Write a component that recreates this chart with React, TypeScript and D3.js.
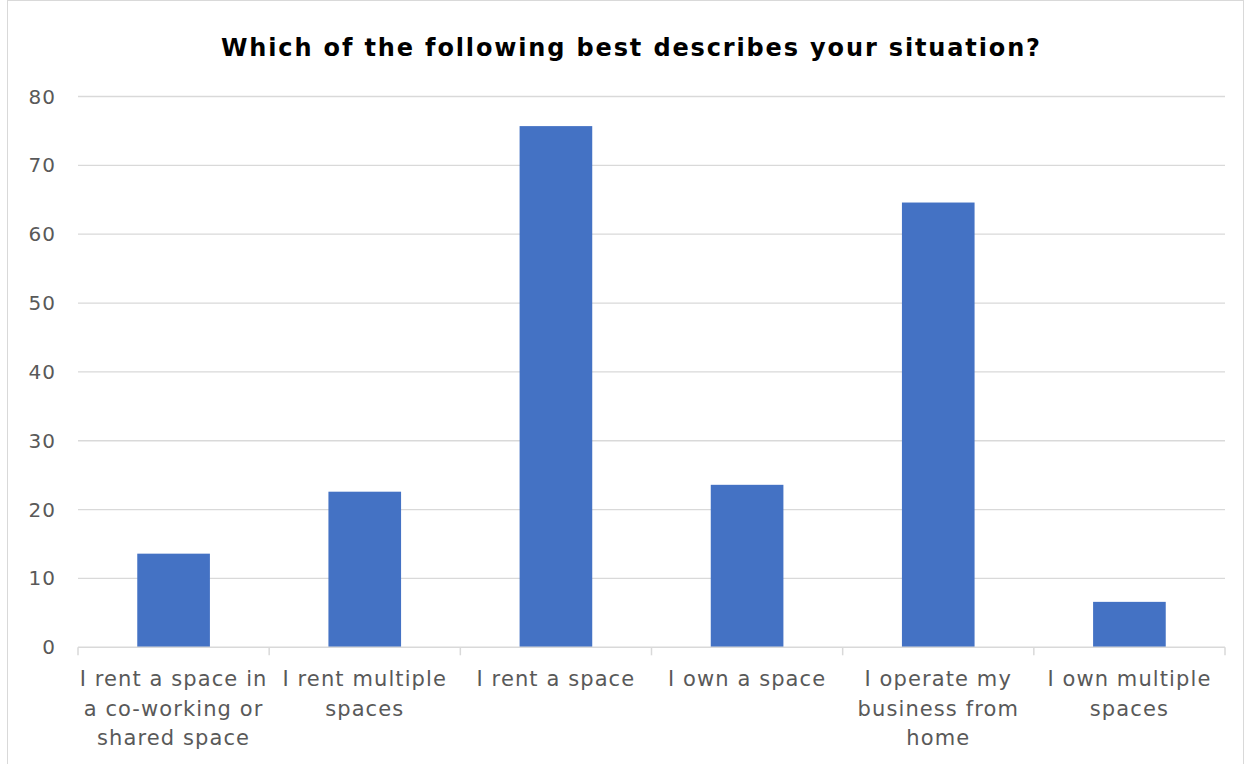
import React, { useEffect, useRef } from 'react';
import * as d3 from 'd3';

const categories: string[][] = [
  ['I rent a space in', 'a co-working or', 'shared space'],
  ['I rent multiple', 'spaces'],
  ['I rent a space'],
  ['I own a space'],
  ['I operate my', 'business from', 'home'],
  ['I own multiple', 'spaces'],
];
const values = [13.6, 22.6, 75.7, 23.6, 64.6, 6.6];
const yTicks = [0, 10, 20, 30, 40, 50, 60, 70, 80];
const title = 'Which of the following best describes your situation?';

const W = 1250;
const H = 764;

export default function App() {
  const svgRef = useRef<SVGSVGElement>(null);

  useEffect(() => {
    if (!svgRef.current) return;
    const svg = d3.select(svgRef.current);
    svg.selectAll('*').remove();

    const left = 78;
    const right = 1225;
    const top = 96.5;
    const bottom = 647.3;
    const font = "'DejaVu Sans', sans-serif";

    svg.append('rect')
      .attr('x', 7.5).attr('y', 0.5)
      .attr('width', 1236).attr('height', 780)
      .attr('fill', '#fff')
      .attr('stroke', '#d9d9d9');

    const x = d3.scaleBand<number>()
      .domain(d3.range(categories.length))
      .range([left, right])
      .paddingInner(0.62)
      .paddingOuter(0.31);

    const y = d3.scaleLinear().domain([0, 80]).range([bottom, top]);

    // gridlines
    svg.append('g')
      .selectAll('line')
      .data(yTicks.slice(1))
      .join('line')
      .attr('x1', left).attr('x2', right)
      .attr('y1', d => y(d)).attr('y2', d => y(d))
      .attr('stroke', '#d9d9d9')
      .attr('stroke-width', 1.3);

    // y labels
    svg.append('g')
      .selectAll('text')
      .data(yTicks)
      .join('text')
      .attr('x', 56)
      .attr('y', d => y(d))
      .attr('dy', '0.35em')
      .attr('text-anchor', 'end')
      .attr('font-family', font)
      .attr('font-size', 20)
      .attr('letter-spacing', 1)
      .attr('fill', '#595959')
      .text(d => d);

    // bars
    svg.append('g')
      .selectAll('rect')
      .data(values)
      .join('rect')
      .attr('x', (_, i) => x(i)!)
      .attr('width', x.bandwidth())
      .attr('y', d => y(d))
      .attr('height', d => bottom - y(d))
      .attr('fill', '#4472c4');

    // x axis line and ticks
    svg.append('line')
      .attr('x1', left).attr('x2', right)
      .attr('y1', bottom).attr('y2', bottom)
      .attr('stroke', '#d9d9d9')
      .attr('stroke-width', 1.5);

    const step = (right - left) / categories.length;
    svg.append('g')
      .selectAll('line')
      .data(d3.range(categories.length + 1))
      .join('line')
      .attr('x1', i => left + i * step).attr('x2', i => left + i * step)
      .attr('y1', bottom).attr('y2', bottom + 8)
      .attr('stroke', '#d9d9d9')
      .attr('stroke-width', 1.5);

    // x labels
    const lbl = svg.append('g')
      .selectAll('text')
      .data(categories)
      .join('text')
      .attr('text-anchor', 'middle')
      .attr('font-family', font)
      .attr('font-size', 21)
      .attr('letter-spacing', 1.1)
      .attr('fill', '#595959');
    lbl.each(function (lines, i) {
      const cx = x(i)! + x.bandwidth() / 2;
      d3.select(this)
        .selectAll('tspan')
        .data(lines)
        .join('tspan')
        .attr('x', cx)
        .attr('y', (_, j) => 686 + j * 29.6)
        .text(d => d);
    });

    svg.append('text')
      .attr('x', 630.5)
      .attr('y', 56)
      .attr('text-anchor', 'middle')
      .attr('font-family', font)
      .attr('font-weight', 'bold')
      .attr('font-size', 24)
      .attr('textLength', 819)
      .attr('lengthAdjust', 'spacing')
      .attr('fill', '#000')
      .text(title);
  }, []);

  return (
    <div style={{ position: 'fixed', left: 0, top: 0 }}>
      <svg ref={svgRef} width={W} height={H} style={{ display: 'block' }} />
    </div>
  );
}
